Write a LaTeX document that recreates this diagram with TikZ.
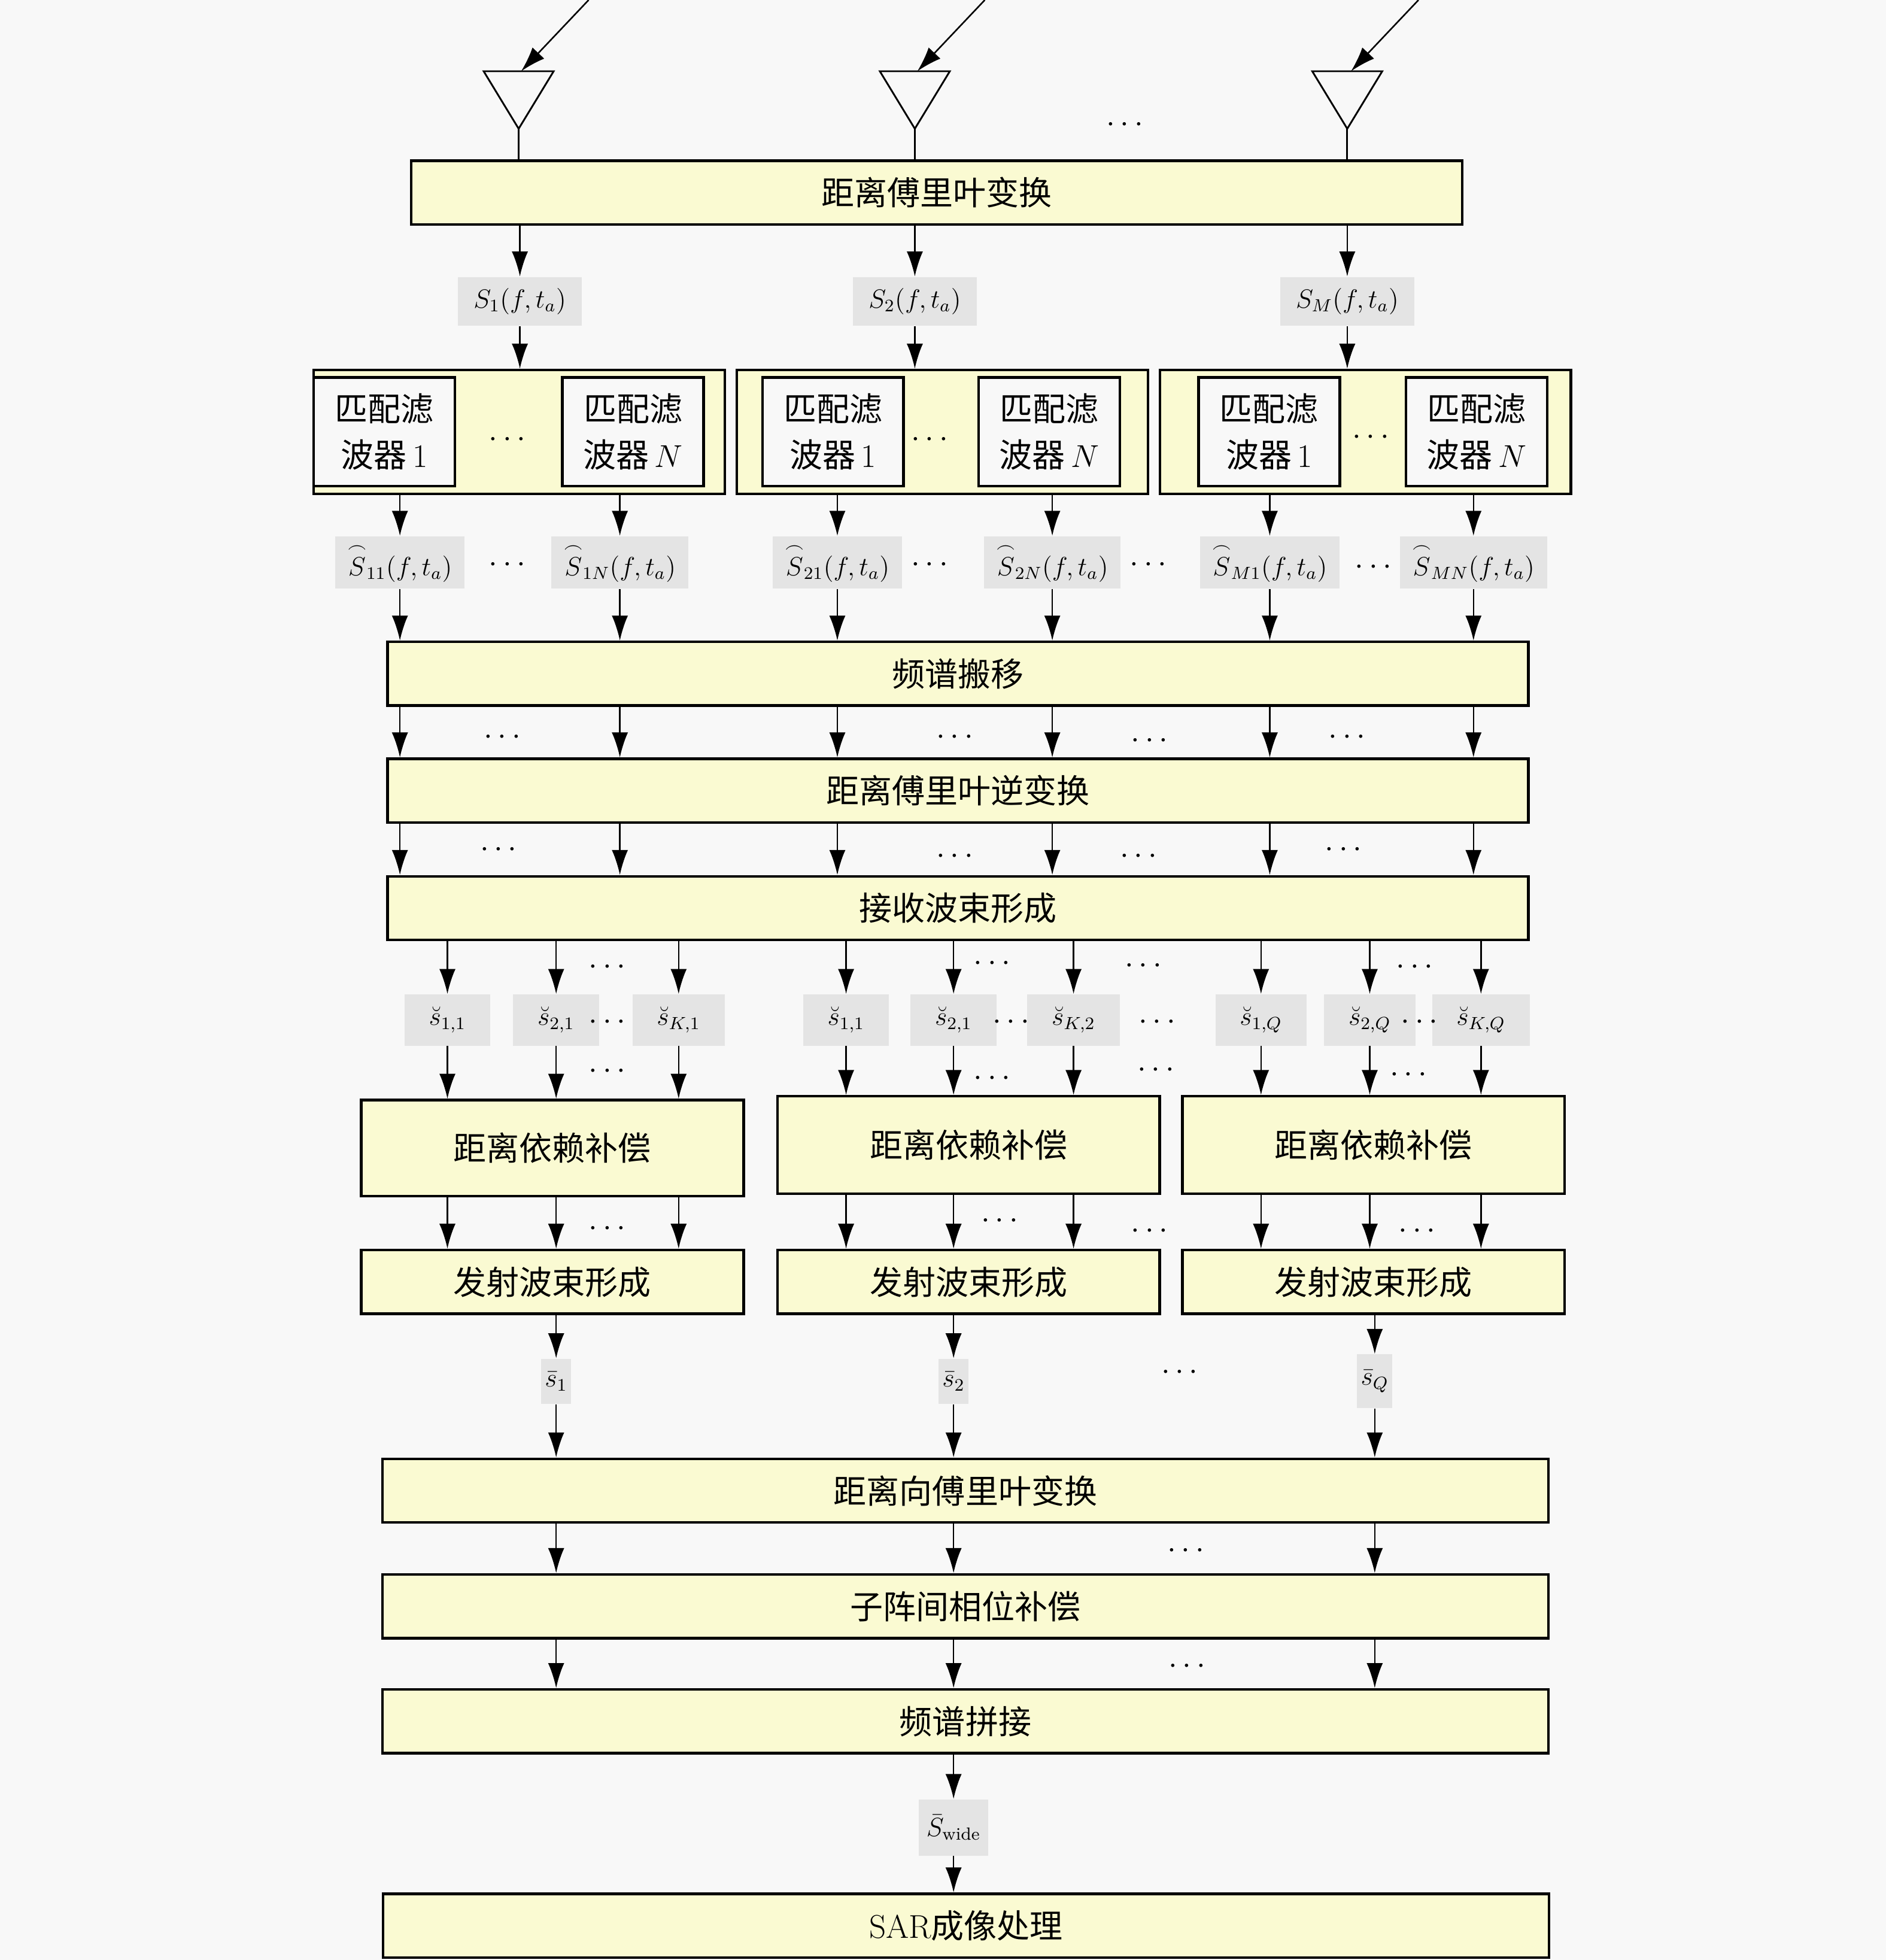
\documentclass[tikz,border=0pt]{standalone}
\usepackage{amsmath}
\usepackage{amssymb}
\usepackage{fontspec}
\usetikzlibrary{arrows.meta, positioning}
\newfontfamily\cjk{Noto Sans CJK SC}
\definecolor{boxfill}{HTML}{FAFAD2}
\definecolor{labfill}{HTML}{E4E4E4}
\definecolor{bgfill}{HTML}{F8F8F8}
\tikzstyle{proc} = [draw, line width=1.2pt, fill=boxfill, inner sep=0pt,
    minimum height=1.02cm, font=\fontsize{15}{20}\selectfont\cjk]
\tikzstyle{grp} = [draw, line width=1.2pt, fill=boxfill, minimum width=6.58cm, minimum height=1.98cm]
\tikzstyle{filt} = [draw, line width=1.2pt, fill=bgfill, inner sep=0pt,
    minimum width=2.26cm, minimum height=1.74cm, align=center, font=\fontsize{15}{21}\selectfont]
\tikzstyle{sig} = [fill=labfill, inner xsep=0.25cm, inner ysep=0pt, minimum height=0.78cm, font=\fontsize{12}{14}\selectfont]
\tikzstyle{dots} = [inner sep=1pt, font=\fontsize{14}{16}\selectfont]
\tikzstyle{arr} = [-{Latex[length=4mm,width=2.6mm]}, line width=0.7pt]
\tikzstyle{ant} = [line width=0.8pt]
\newcommand{\wmid}{18.26cm}
\newcommand{\wlow}{18.66cm}
\newcommand{\wsub}{6.12cm}

\begin{document}
\begin{tikzpicture}[x=0.02cm, y=-0.02cm]
	\useasboundingbox (0,0) rectangle (1509,1568);
	\fill[bgfill] (0,0) rectangle (1509,1568);

	% transformee en distance
	\node[proc, minimum width=16.82cm] (ftt) at (749.5,154) {距离傅里叶变换};

	% antennes
	\draw[ant] (387,57) -- (443,57) -- (415,103) coordinate (ant1) -- cycle;
	\draw[ant] (704,57) -- (760,57) -- (732,103) coordinate (ant2) -- cycle;
	\draw[ant] (1050,57) -- (1106,57) -- (1078,103) coordinate (antM) -- cycle;
	\draw[ant] (ant1) -- (ant1 |- ftt.north);
	\draw[ant] (ant2) -- (ant2 |- ftt.north);
	\draw[ant] (antM) -- (antM |- ftt.north);
	\coordinate (in1) at (471,0); \coordinate (rx1) at (417,57);
	\coordinate (in2) at (788,0); \coordinate (rx2) at (734,57);
	\coordinate (inM) at (1135,0); \coordinate (rxM) at (1081,57);
	\draw[arr] (in1) -- (rx1);
	\draw[arr] (in2) -- (rx2);
	\draw[arr] (inM) -- (rxM);
	\node[dots] (d0) at (902,100) {$\cdots$};

	% signaux S_m
	\node[sig] (S1) at (416,241) {$S_1(f,t_a)$};
	\node[sig] (S2) at (732,241) {$S_2(f,t_a)$};
	\node[sig] (SM) at (1078,241) {$S_M(f,t_a)$};
	\draw[arr] (S1 |- ftt.south) -- (S1);
	\draw[arr] (S2 |- ftt.south) -- (S2);
	\draw[arr] (SM |- ftt.south) -- (SM);

	% filtres adaptes
	\node[grp] (g1) at (415.5,345.5) {};
	\node[grp] (g2) at (754,345.5) {};
	\node[grp] (g3) at (1092.5,345.5) {};
	\draw[arr] (S1) -- (S1 |- g1.north);
	\draw[arr] (S2) -- (S2 |- g2.north);
	\draw[arr] (SM) -- (SM |- g3.north);
	\node[filt] (f11) at (307.5,345.5) {{\cjk 匹配滤}\\{\cjk 波器}\,1};
	\node[filt] (f1N) at (506.5,345.5) {{\cjk 匹配滤}\\{\cjk 波器}\,$N$};
	\node[filt] (f21) at (666.5,345.5) {{\cjk 匹配滤}\\{\cjk 波器}\,1};
	\node[filt] (f2N) at (839.5,345.5) {{\cjk 匹配滤}\\{\cjk 波器}\,$N$};
	\node[filt] (fM1) at (1015.5,345.5) {{\cjk 匹配滤}\\{\cjk 波器}\,1};
	\node[filt] (fMN) at (1181.5,345.5) {{\cjk 匹配滤}\\{\cjk 波器}\,$N$};
	\node[dots] (dg1) at (408,352) {$\cdots$};
	\node[dots] (dg2) at (746,352) {$\cdots$};
	\node[dots] (dg3) at (1099,350) {$\cdots$};

	% sorties des filtres
	\node[sig, minimum height=0.84cm, inner xsep=0.2cm] (H11) at (320,450) {$\overset{\frown}{S}_{11}(f,t_a)$};
	\node[sig, minimum height=0.84cm, inner xsep=0.2cm] (H1N) at (496,450) {$\overset{\frown}{S}_{1N}(f,t_a)$};
	\node[sig, minimum height=0.84cm, inner xsep=0.2cm] (H21) at (670,450) {$\overset{\frown}{S}_{21}(f,t_a)$};
	\node[sig, minimum height=0.84cm, inner xsep=0.2cm] (H2N) at (842,450) {$\overset{\frown}{S}_{2N}(f,t_a)$};
	\node[sig, minimum height=0.84cm, inner xsep=0.2cm] (HM1) at (1016,450) {$\overset{\frown}{S}_{M1}(f,t_a)$};
	\node[sig, minimum height=0.84cm, inner xsep=0.2cm] (HMN) at (1179,450) {$\overset{\frown}{S}_{MN}(f,t_a)$};
	\draw[arr] (H11 |- g1.south) -- (H11);
	\draw[arr] (H1N |- g1.south) -- (H1N);
	\draw[arr] (H21 |- g2.south) -- (H21);
	\draw[arr] (H2N |- g2.south) -- (H2N);
	\draw[arr] (HM1 |- g3.south) -- (HM1);
	\draw[arr] (HMN |- g3.south) -- (HMN);
	\node[dots] (dh1) at (408,452) {$\cdots$};
	\node[dots] (dh2) at (746,452) {$\cdots$};
	\node[dots] (dh3) at (921,452) {$\cdots$};
	\node[dots] (dh4) at (1101,454) {$\cdots$};

	% etage spectre
	\node[proc, minimum width=\wmid] (shift) at (766.5,539) {频谱搬移};
	\node[proc, minimum width=\wmid] (ifft) at (766.5,632.5) {距离傅里叶逆变换};
	\node[proc, minimum width=\wmid] (rxbf) at (766.5,726.5) {接收波束形成};
	\draw[arr] (H11) -- (H11 |- shift.north);
	\draw[arr] (H1N) -- (H1N |- shift.north);
	\draw[arr] (H21) -- (H21 |- shift.north);
	\draw[arr] (H2N) -- (H2N |- shift.north);
	\draw[arr] (HM1) -- (HM1 |- shift.north);
	\draw[arr] (HMN) -- (HMN |- shift.north);
	\draw[arr] (H11 |- shift.south) -- (H11 |- ifft.north);
	\draw[arr] (H1N |- shift.south) -- (H1N |- ifft.north);
	\draw[arr] (H21 |- shift.south) -- (H21 |- ifft.north);
	\draw[arr] (H2N |- shift.south) -- (H2N |- ifft.north);
	\draw[arr] (HM1 |- shift.south) -- (HM1 |- ifft.north);
	\draw[arr] (HMN |- shift.south) -- (HMN |- ifft.north);
	\draw[arr] (H11 |- ifft.south) -- (H11 |- rxbf.north);
	\draw[arr] (H1N |- ifft.south) -- (H1N |- rxbf.north);
	\draw[arr] (H21 |- ifft.south) -- (H21 |- rxbf.north);
	\draw[arr] (H2N |- ifft.south) -- (H2N |- rxbf.north);
	\draw[arr] (HM1 |- ifft.south) -- (HM1 |- rxbf.north);
	\draw[arr] (HMN |- ifft.south) -- (HMN |- rxbf.north);
	\node[dots] (ds1) at (404,590) {$\cdots$};
	\node[dots] (ds2) at (766,590) {$\cdots$};
	\node[dots] (ds3) at (922,593) {$\cdots$};
	\node[dots] (ds4) at (1080,590) {$\cdots$};
	\node[dots] (di1) at (401,680) {$\cdots$};
	\node[dots] (di2) at (766,685) {$\cdots$};
	\node[dots] (di3) at (913,685) {$\cdots$};
	\node[dots] (di4) at (1077,680) {$\cdots$};

	% faisceaux de reception
	\node[sig, inner xsep=0.39cm, minimum height=0.82cm] (b11) at (358,816) {$\breve{s}_{1,1}$};
	\node[sig, inner xsep=0.39cm, minimum height=0.82cm] (b21) at (445,816) {$\breve{s}_{2,1}$};
	\node[sig, inner xsep=0.39cm, minimum height=0.82cm] (bK1) at (543,816) {$\breve{s}_{K,1}$};
	\node[sig, inner xsep=0.39cm, minimum height=0.82cm] (b12) at (677,816) {$\breve{s}_{1,1}$};
	\node[sig, inner xsep=0.39cm, minimum height=0.82cm] (b22) at (763,816) {$\breve{s}_{2,1}$};
	\node[sig, inner xsep=0.39cm, minimum height=0.82cm] (bK2) at (859,816) {$\breve{s}_{K,2}$};
	\node[sig, inner xsep=0.39cm, minimum height=0.82cm] (b1Q) at (1009,816) {$\breve{s}_{1,Q}$};
	\node[sig, inner xsep=0.39cm, minimum height=0.82cm] (b2Q) at (1096,816) {$\breve{s}_{2,Q}$};
	\node[sig, inner xsep=0.39cm, minimum height=0.82cm] (bKQ) at (1185,816) {$\breve{s}_{K,Q}$};
	\draw[arr] (b11 |- rxbf.south) -- (b11);
	\draw[arr] (b21 |- rxbf.south) -- (b21);
	\draw[arr] (bK1 |- rxbf.south) -- (bK1);
	\draw[arr] (b12 |- rxbf.south) -- (b12);
	\draw[arr] (b22 |- rxbf.south) -- (b22);
	\draw[arr] (bK2 |- rxbf.south) -- (bK2);
	\draw[arr] (b1Q |- rxbf.south) -- (b1Q);
	\draw[arr] (b2Q |- rxbf.south) -- (b2Q);
	\draw[arr] (bKQ |- rxbf.south) -- (bKQ);
	\node[dots] (dr1) at (488,774) {$\cdots$};
	\node[dots] (dr2) at (796,771) {$\cdots$};
	\node[dots] (dr3) at (917,773) {$\cdots$};
	\node[dots] (dr4) at (1134,774) {$\cdots$};
	\node[dots] (db1) at (488,818) {$\cdots$};
	\node[dots] (db2) at (811,818) {$\cdots$};
	\node[dots] (db3) at (928,818) {$\cdots$};
	\node[dots] (db4) at (1138,818) {$\cdots$};

	% compensation et emission
	\node[proc, minimum width=\wsub, minimum height=1.54cm] (comp1) at (442,918.5) {距离依赖补偿};
	\node[proc, minimum width=\wsub, minimum height=1.56cm] (comp2) at (775,916) {距离依赖补偿};
	\node[proc, minimum width=\wsub, minimum height=1.56cm] (compQ) at (1099,916) {距离依赖补偿};
	\draw[arr] (b11) -- (b11 |- comp1.north);
	\draw[arr] (b21) -- (b21 |- comp1.north);
	\draw[arr] (bK1) -- (bK1 |- comp1.north);
	\draw[arr] (b12) -- (b12 |- comp2.north);
	\draw[arr] (b22) -- (b22 |- comp2.north);
	\draw[arr] (bK2) -- (bK2 |- comp2.north);
	\draw[arr] (b1Q) -- (b1Q |- compQ.north);
	\draw[arr] (b2Q) -- (b2Q |- compQ.north);
	\draw[arr] (bKQ) -- (bKQ |- compQ.north);
	\node[dots] (dc1) at (488,857) {$\cdots$};
	\node[dots] (dc2) at (796,863) {$\cdots$};
	\node[dots] (dc3) at (927,856) {$\cdots$};
	\node[dots] (dc4) at (1129,860) {$\cdots$};

	\node[proc, minimum width=\wsub] (tx1) at (442,1025.5) {发射波束形成};
	\node[proc, minimum width=\wsub] (tx2) at (775,1025.5) {发射波束形成};
	\node[proc, minimum width=\wsub] (txQ) at (1099,1025.5) {发射波束形成};
	\draw[arr] (b11 |- comp1.south) -- (b11 |- tx1.north);
	\draw[arr] (b21 |- comp1.south) -- (b21 |- tx1.north);
	\draw[arr] (bK1 |- comp1.south) -- (bK1 |- tx1.north);
	\draw[arr] (b12 |- comp2.south) -- (b12 |- tx2.north);
	\draw[arr] (b22 |- comp2.south) -- (b22 |- tx2.north);
	\draw[arr] (bK2 |- comp2.south) -- (bK2 |- tx2.north);
	\draw[arr] (b1Q |- compQ.south) -- (b1Q |- txQ.north);
	\draw[arr] (b2Q |- compQ.south) -- (b2Q |- txQ.north);
	\draw[arr] (bKQ |- compQ.south) -- (bKQ |- txQ.north);
	\node[dots] (dt1) at (488,983) {$\cdots$};
	\node[dots] (dt2) at (802,977) {$\cdots$};
	\node[dots] (dt3) at (922,985) {$\cdots$};
	\node[dots] (dt4) at (1136,985) {$\cdots$};

	% sous-bandes
	\node[sig, inner xsep=0.06cm, minimum height=0.72cm] (sb1) at (445,1105) {$\bar{s}_1$};
	\node[sig, inner xsep=0.06cm, minimum height=0.72cm] (sb2) at (763,1105) {$\bar{s}_2$};
	\node[sig, inner xsep=0.06cm, minimum height=0.86cm] (sbQ) at (1100,1105) {$\bar{s}_Q$};
	\draw[arr] (sb1 |- tx1.south) -- (sb1);
	\draw[arr] (sb2 |- tx2.south) -- (sb2);
	\draw[arr] (sbQ |- txQ.south) -- (sbQ);
	\node[dots] (dq) at (946,1098) {$\cdots$};

	% etage final
	\node[proc, minimum width=\wlow] (rfft) at (772.5,1192.5) {距离向傅里叶变换};
	\node[proc, minimum width=\wlow] (phase) at (772.5,1285) {子阵间相位补偿};
	\node[proc, minimum width=\wlow] (stitch) at (772.5,1377) {频谱拼接};
	\draw[arr] (sb1) -- (sb1 |- rfft.north);
	\draw[arr] (sb2) -- (sb2 |- rfft.north);
	\draw[arr] (sbQ) -- (sbQ |- rfft.north);
	\draw[arr] (sb1 |- rfft.south) -- (sb1 |- phase.north);
	\draw[arr] (sb2 |- rfft.south) -- (sb2 |- phase.north);
	\draw[arr] (sbQ |- rfft.south) -- (sbQ |- phase.north);
	\draw[arr] (sb1 |- phase.south) -- (sb1 |- stitch.north);
	\draw[arr] (sb2 |- phase.south) -- (sb2 |- stitch.north);
	\draw[arr] (sbQ |- phase.south) -- (sbQ |- stitch.north);
	\node[dots] (dp1) at (951,1241) {$\cdots$};
	\node[dots] (dp2) at (952,1333) {$\cdots$};

	\node[sig, inner xsep=0.12cm, minimum height=0.9cm] (Swide) at (763,1462) {$\bar{S}_{\text{wide}}$};
	\node[proc, minimum width=\wlow] (sar) at (773,1540.5) {{\rmfamily SAR}成像处理};
	\draw[arr] (Swide |- stitch.south) -- (Swide);
	\draw[arr] (Swide) -- (Swide |- sar.north);
\end{tikzpicture}
\end{document}
